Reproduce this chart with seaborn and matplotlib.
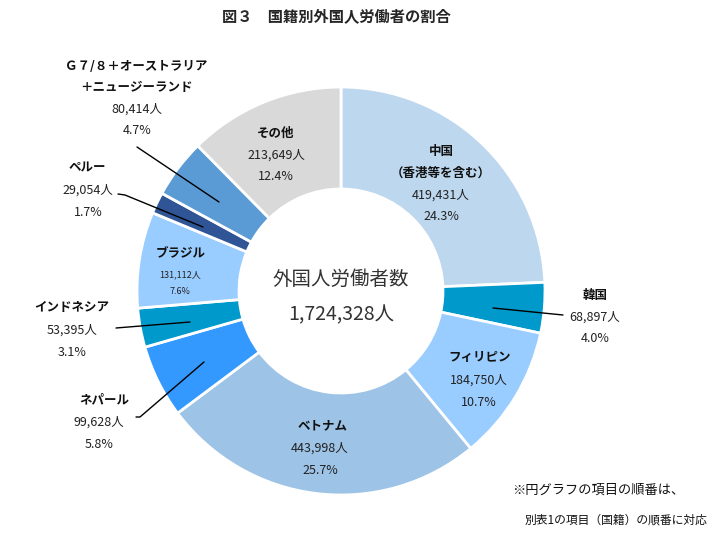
import matplotlib
matplotlib.use("Agg")
import matplotlib.pyplot as plt
import seaborn as sns

# data, clockwise from 12 o'clock
names = ["中国\n（香港等を含む）", "韓国", "フィリピン", "ベトナム", "ネパール",
         "インドネシア", "ブラジル", "ペルー", "Ｇ７/８＋オーストラリア\n＋ニュージーランド", "その他"]
counts = [419431, 68897, 184750, 443998, 99628, 53395, 131112, 29054, 80414, 213649]
shares = ["24.3%", "4.0%", "10.7%", "25.7%", "5.8%", "3.1%", "7.6%", "1.7%", "4.7%", "12.4%"]
colors = ["#BDD7EE", "#0099CC", "#99CCFF", "#9DC3E6", "#3399FF",
          "#0099CC", "#99CCFF", "#2F5597", "#5B9BD5", "#D9D9D9"]
total = 1724328

sns.set_theme(style="white")
plt.rcParams['font.family'] = ['Noto Sans CJK JP', 'DejaVu Sans']

W, H = 724, 536
fig = plt.figure(figsize=(W / 100, H / 100), dpi=100)
ax = fig.add_axes([0, 0, 1, 1])

def py(y):
    return H - y

cx, cy, r = 341, py(291), 204
ax.pie(counts, colors=colors, startangle=90, counterclock=False,
       center=(cx, cy), radius=r,
       wedgeprops=dict(width=r * 0.5, edgecolor="white", linewidth=2))
ax.set_xlim(0, W)
ax.set_ylim(0, H)
ax.set_aspect("equal")
ax.axis("off")

ax.text(336, py(16), "図３　国籍別外国人労働者の割合", ha="center", va="center",
        fontsize=11, fontweight="bold")

ax.text(cx, py(279), "外国人労働者数", ha="center", va="center", fontsize=14, color="#333333")
ax.text(cx, py(315), f"{total:,}人", ha="center", va="center", fontsize=14, color="#333333")

# label layout: (x name, x numbers, y of name line, line gap, number font size)
layout = [
    (441, 441, 152, 22, 9),
    (595, 595, 295, 22, 9),
    (480, 479, 358, 22, 9),
    (323, 320, 426, 22, 9),
    (104, 99, 400, 22, 9),
    (72, 72, 308, 22, 9),
    (181, 180, 254, 17, 6.5),
    (87, 88, 168, 22, 9),
    (136, 137, 66, 22, 9),
    (276, 276, 133, 22, 9),
]
for name, c, s, (xn, x, y, gap, fs) in zip(names, counts, shares, layout):
    lines = name.split("\n")
    for i, ln in enumerate(lines):
        ax.text(xn, py(y + i * 21), ln, ha="center", va="center",
                fontsize=9, fontweight="bold", color="#111111")
    y0 = y + (len(lines) - 1) * 21 + (gap if fs > 7 else 21)
    ax.text(x, py(y0), f"{c:,}人", ha="center", va="center", fontsize=fs, color="#222222")
    ax.text(x, py(y0 + gap), s, ha="center", va="center", fontsize=fs, color="#222222")

# leader lines
leaders = [
    [(493, 308), (563, 315)],
    [(204, 362), (140, 417), (136, 417)],
    [(190, 322), (116, 328)],
    [(118, 194), (125, 195), (203, 227)],
    [(137, 147), (219, 202)],
]
for pts in leaders:
    ax.plot([p[0] for p in pts], [py(p[1]) for p in pts], color="black", linewidth=1)

ax.text(512, py(490), "※円グラフの項目の順番は、", ha="left", va="center",
        fontsize=9.5, color="#111111")
ax.text(525, py(520), "別表1の項目（国籍）の順番に対応", ha="left", va="center",
        fontsize=8.5, color="#111111")

fig.savefig("out.png", dpi=100)
